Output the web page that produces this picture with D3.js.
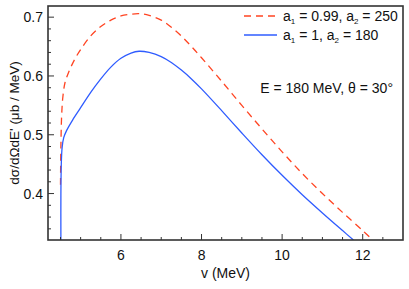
<!DOCTYPE html>
<html>
<head>
<meta charset="utf-8">
<script src="https://cdn.jsdelivr.net/npm/d3@7"></script>
<style>
  body { margin: 0; background: #fff; }
  text { font-family: "Liberation Sans", Arial, sans-serif; fill: #111; }
</style>
</head>
<body>
<div id="chart"></div>
<script>
const width = 409;
const height = 289;
const margin = {top: 6, right: 6, bottom: 49, left: 48};

// a1 = 0.99, a2 = 250 (dashed red)
const redV = [4.50, 4.51, 4.53, 4.56, 4.61, 4.70, 4.85, 5.00, 5.25, 5.50, 5.75, 6.00, 6.25, 6.45, 6.70, 7.00, 7.25, 7.50, 7.75, 8.00, 8.50, 9.00, 9.50, 10.00, 10.50, 11.00, 11.50, 12.00, 12.23];
const redY = [0.415, 0.48, 0.535, 0.565, 0.588, 0.606, 0.628, 0.645, 0.668, 0.684, 0.695, 0.702, 0.705, 0.706, 0.703, 0.695, 0.683, 0.668, 0.650, 0.631, 0.591, 0.550, 0.510, 0.471, 0.434, 0.400, 0.368, 0.337, 0.322];

// a1 = 1, a2 = 180 (solid blue)
const blueV = [4.51, 4.51, 4.52, 4.54, 4.58, 4.65, 4.80, 5.00, 5.25, 5.50, 5.75, 6.00, 6.25, 6.45, 6.70, 7.00, 7.25, 7.50, 7.75, 8.00, 8.50, 9.00, 9.50, 10.00, 10.50, 11.00, 11.50, 11.77];
const blueY = [0.321, 0.400, 0.450, 0.478, 0.495, 0.507, 0.525, 0.546, 0.572, 0.595, 0.615, 0.630, 0.639, 0.642, 0.640, 0.633, 0.623, 0.610, 0.595, 0.578, 0.541, 0.503, 0.466, 0.431, 0.398, 0.367, 0.337, 0.321];

const xTicks = [6, 8, 10, 12];
const yTicks = [0.4, 0.5, 0.6, 0.7];
const legendLabels = [["a", "1", " = 0.99, a", "2", " = 250"], ["a", "1", " = 1, a", "2", " = 180"]];
const note = "E = 180 MeV, θ = 30°";

const svg = d3.select("#chart")
    .append("svg")
    .attr("width", width)
    .attr("height", height);

const x = d3.scaleLinear().domain([4.19, 13.0]).range([margin.left, width - margin.right]);
const y = d3.scaleLinear().domain([0.321, 0.719]).range([height - margin.bottom, margin.top]);

const plot = svg.append("g");

plot.append("clipPath").attr("id", "clip")
    .append("rect")
    .attr("x", margin.left).attr("y", margin.top)
    .attr("width", width - margin.left - margin.right)
    .attr("height", height - margin.top - margin.bottom);

const line = d3.line().x(d => x(d[0])).y(d => y(d[1])).curve(d3.curveCatmullRom.alpha(0.5));

plot.append("path")
    .datum(redV.map((v, i) => [v, redY[i]]))
    .attr("d", line)
    .attr("clip-path", "url(#clip)")
    .attr("fill", "none")
    .attr("stroke", "#ff4422")
    .attr("stroke-width", 1.3)
    .attr("stroke-dasharray", "7,5");

plot.append("path")
    .datum(blueV.map((v, i) => [v, blueY[i]]))
    .attr("d", line)
    .attr("clip-path", "url(#clip)")
    .attr("fill", "none")
    .attr("stroke", "#2f5cff")
    .attr("stroke-width", 1.3);

// ticks point inward
const xMinor = d3.range(4.5, 13.0, 0.5).filter(v => !xTicks.includes(v));
const yMinor = d3.range(0.34, 0.72, 0.02).map(v => +v.toFixed(2)).filter(v => !yTicks.includes(v));
const yBase = height - margin.bottom;

const tickG = svg.append("g").attr("stroke", "#333").attr("stroke-width", 1);
tickG.selectAll(".xmaj").data(xTicks).enter().append("line")
    .attr("x1", d => x(d)).attr("x2", d => x(d))
    .attr("y1", yBase).attr("y2", yBase - 6);
tickG.selectAll(".xmin").data(xMinor).enter().append("line")
    .attr("x1", d => x(d)).attr("x2", d => x(d))
    .attr("y1", yBase).attr("y2", yBase - 3);
tickG.selectAll(".ymaj").data(yTicks).enter().append("line")
    .attr("x1", margin.left).attr("x2", margin.left + 6)
    .attr("y1", d => y(d)).attr("y2", d => y(d));
tickG.selectAll(".ymin").data(yMinor).enter().append("line")
    .attr("x1", margin.left).attr("x2", margin.left + 3)
    .attr("y1", d => y(d)).attr("y2", d => y(d));

svg.append("rect")
    .attr("x", margin.left).attr("y", margin.top)
    .attr("width", width - margin.left - margin.right)
    .attr("height", height - margin.top - margin.bottom)
    .attr("fill", "none")
    .attr("stroke", "#333")
    .attr("stroke-width", 1.6);

svg.selectAll(".xlab").data(xTicks).enter().append("text")
    .attr("x", d => x(d)).attr("y", yBase + 20)
    .attr("text-anchor", "middle")
    .attr("font-size", 14)
    .text(d => d);

svg.selectAll(".ylab").data(yTicks).enter().append("text")
    .attr("x", margin.left - 5).attr("y", d => y(d) + 5)
    .attr("text-anchor", "end")
    .attr("font-size", 14)
    .text(d => d.toFixed(1));

svg.append("text")
    .attr("x", (margin.left + width - margin.right) / 2)
    .attr("y", 278)
    .attr("text-anchor", "middle")
    .attr("font-size", 14)
    .text("v (MeV)");

svg.append("text")
    .attr("transform", `translate(19,${(margin.top + yBase) / 2}) rotate(-90)`)
    .attr("text-anchor", "middle")
    .attr("font-size", 13.5)
    .text("dσ/dΩdE' (μb / MeV)");

// legend
const legend = svg.append("g");
const legendY = [16, 35];
const legendStyle = [{stroke: "#ff4422", dash: "7,5"}, {stroke: "#2f5cff", dash: null}];
legendLabels.forEach((parts, i) => {
    legend.append("line")
        .attr("x1", 244).attr("x2", 277)
        .attr("y1", legendY[i]).attr("y2", legendY[i])
        .attr("stroke", legendStyle[i].stroke)
        .attr("stroke-width", 1.3)
        .attr("stroke-dasharray", legendStyle[i].dash);
    const t = legend.append("text")
        .attr("x", 283).attr("y", legendY[i] + 5)
        .attr("font-size", 14);
    parts.forEach((p, j) => {
        const sub = j % 2 === 1;
        t.append("tspan")
            .attr("font-size", sub ? 8 : 14)
            .attr("dy", sub ? 3 : (j > 0 ? -3 : 0))
            .text(p);
    });
});

svg.append("text")
    .attr("x", 393).attr("y", 93)
    .attr("text-anchor", "end")
    .attr("font-size", 14)
    .text(note);
</script>
</body>
</html>
